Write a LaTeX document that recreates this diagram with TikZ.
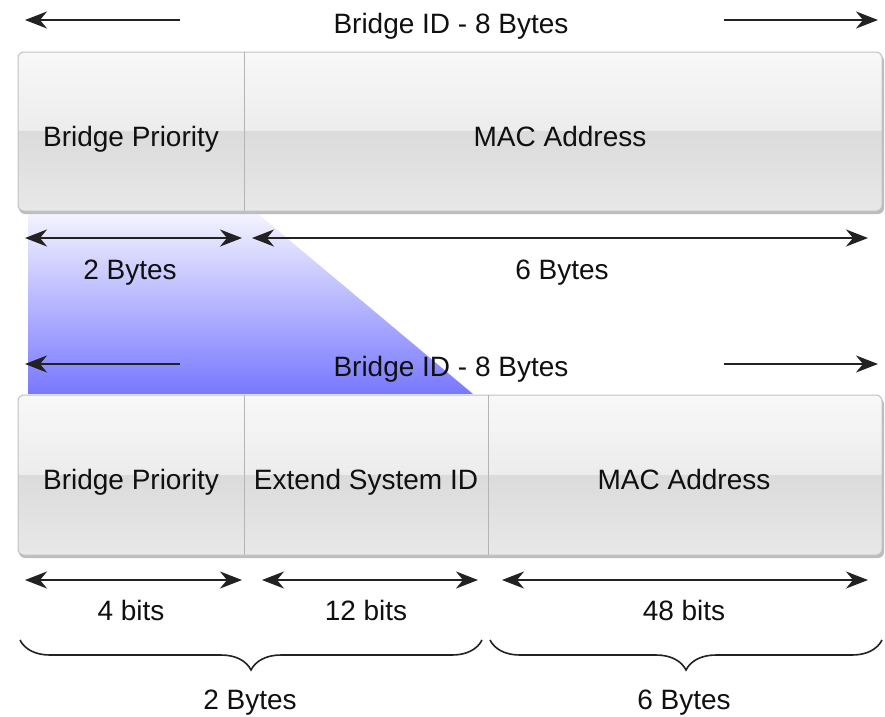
\documentclass[tikz,border=0pt]{standalone}
\usepackage{fontspec}
\setmainfont{Liberation Sans}
\usetikzlibrary{arrows.meta,decorations.pathreplacing}

\definecolor{inktext}{HTML}{101010}
\definecolor{inkline}{HTML}{222222}
\definecolor{boxedge}{HTML}{C2C2C2}
\definecolor{divline}{HTML}{B4B4B4}
\definecolor{glossA}{HTML}{F8F8F8}
\definecolor{glossB}{HTML}{ECECEC}
\definecolor{glossC}{HTML}{DBDBDB}
\definecolor{glossD}{HTML}{E8E8E8}
\definecolor{shadowgray}{HTML}{BDBDBD}
\definecolor{fadeblue}{HTML}{F4F4FF}
\definecolor{deepblue}{HTML}{7878FF}

\tikzset{
  lbl/.style={text=inktext, font=\fontsize{28}{33}\selectfont, inner sep=0pt, anchor=base},
  span/.style={draw=inkline, line width=2pt, {Stealth[length=22pt,width=17pt,inset=7pt]}-{Stealth[length=22pt,width=17pt,inset=7pt]}},
  halfspan/.style={draw=inkline, line width=2pt, -{Stealth[length=22pt,width=17pt,inset=7pt]}},
  curly/.style={draw=inkline, line width=1.6pt, decorate,
    decoration={brace, amplitude=30pt, raise=0pt}},
  divider/.style={draw=divline, line width=1pt},
  frame/.style={draw=boxedge, line width=1pt, rounded corners=6pt, inner sep=0pt}
}

% glossy record box: #1 name, #2 top y, #3 bottom y
\newcommand{\glossbox}[3]{%
  \fill[shadowgray, rounded corners=6pt] (19,{#2+3}) rectangle (884,{#3+3});
  \begin{scope}
    \clip[rounded corners=6pt] (18,#2) rectangle (882,#3);
    \shade[top color=glossA, bottom color=glossB] (18,#2) rectangle (882,{(#2+#3)/2});
    \shade[top color=glossC, bottom color=glossD] (18,{(#2+#3)/2}) rectangle (882,#3);
  \end{scope}
  \draw[frame] (18,#2) rectangle (882,#3);
  \coordinate (#1-nw) at (18,#2);
  \coordinate (#1-se) at (882,#3);
}

\begin{document}
\begin{tikzpicture}[x=1pt, y=-1pt]
\useasboundingbox (0,0) rectangle (885,716);
\fill[white] (0,0) rectangle (885,716);

% blue projection of the 2-byte priority field
\shade[top color=fadeblue, bottom color=deepblue]
  (28,213) -- (257,213) -- (473,394) -- (28,394) -- cycle;

% ---------- original bridge ID ----------
\node[lbl] (idA) at (451,33) {Bridge ID - 8 Bytes};
\coordinate (idAl1) at (180,20);
\coordinate (idAl2) at (25,20);
\coordinate (idAr1) at (724,20);
\coordinate (idAr2) at (878,20);
\draw[halfspan] (idAl1) -- (idAl2);
\draw[halfspan] (idAr1) -- (idAr2);

\glossbox{boxA}{52}{211}
\draw[divider] (244,52) -- (244,211);
\node[lbl] (prioA) at (131,146) {Bridge Priority};
\node[lbl] (macA) at (560,146) {MAC Address};

\coordinate (a1) at (25,238);
\coordinate (a2) at (242,238);
\coordinate (a3) at (252,238);
\coordinate (a4) at (868,238);
\draw[span] (a1) -- (a2);
\draw[span] (a3) -- (a4);
\node[lbl] (twoA) at (130,279) {2 Bytes};
\node[lbl] (sixA) at (562,279) {6 Bytes};

% ---------- extended bridge ID ----------
\node[lbl] (idB) at (451,376) {Bridge ID - 8 Bytes};
\coordinate (idBl1) at (180,364);
\coordinate (idBl2) at (25,364);
\coordinate (idBr1) at (724,364);
\coordinate (idBr2) at (878,364);
\draw[halfspan] (idBl1) -- (idBl2);
\draw[halfspan] (idBr1) -- (idBr2);

\glossbox{boxB}{395}{555}
\draw[divider] (244,395) -- (244,555);
\draw[divider] (488,395) -- (488,555);
\node[lbl] (prioB) at (131,489) {Bridge Priority};
\node[lbl] (extB) at (366,489) {Extend System ID};
\node[lbl] (macB) at (684,489) {MAC Address};

\coordinate (b1) at (25,580);
\coordinate (b2) at (242,580);
\coordinate (b3) at (262,580);
\coordinate (b4) at (478,580);
\coordinate (b5) at (502,580);
\coordinate (b6) at (868,580);
\draw[span] (b1) -- (b2);
\draw[span] (b3) -- (b4);
\draw[span] (b5) -- (b6);
\node[lbl] (fourB) at (131,620) {4 bits};
\node[lbl] (twelveB) at (366,620) {12 bits};
\node[lbl] (fortyB) at (684,620) {48 bits};

% byte groupings
\coordinate (c1) at (20,640);
\coordinate (c2) at (482,640);
\coordinate (c3) at (490,640);
\coordinate (c4) at (882,640);
\draw[curly] (c2) -- (c1);
\draw[curly] (c4) -- (c3);
\node[lbl] (twoB) at (250,709) {2 Bytes};
\node[lbl] (sixB) at (684,709) {6 Bytes};
\end{tikzpicture}
\end{document}
